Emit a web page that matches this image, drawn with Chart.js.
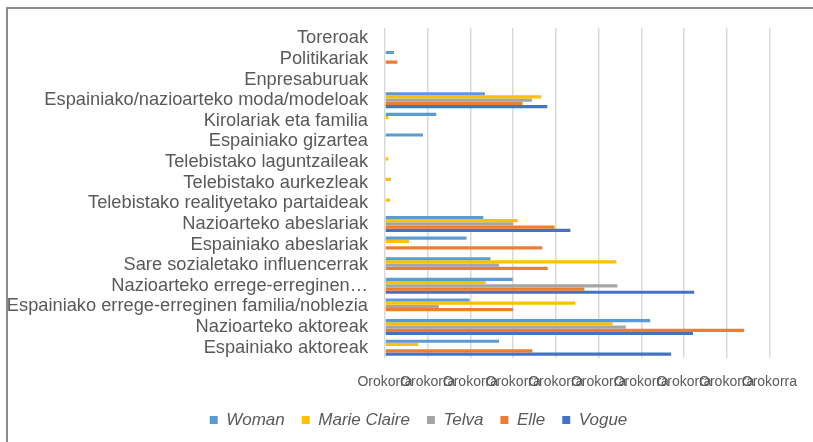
<!DOCTYPE html>
<html>
<head>
<meta charset="utf-8">
<script src="https://cdn.jsdelivr.net/npm/chart.js@4"></script>
<style>
	html, body { margin: 0; padding: 0; background: #fff; overflow: hidden; }
	#wrap { position: relative; width: 813px; height: 442px; }
	#frame { position: absolute; left: 6px; top: 7px; width: 900px; height: 500px; border: 2px solid #8c8c8c; }
	#chart { position: absolute; left: 0; top: 0; }
</style>
</head>
<body>
<div id="wrap">
	<div id="frame"></div>
	<canvas id="chart" width="813" height="442"></canvas>
</div>
<script>
// Categories, top to bottom
const categories = [
	'Toreroak',
	'Politikariak',
	'Enpresaburuak',
	'Espainiako/nazioarteko moda/modeloak',
	'Kirolariak eta familia',
	'Espainiako gizartea',
	'Telebistako laguntzaileak',
	'Telebistako aurkezleak',
	'Telebistako realityetako partaideak',
	'Nazioarteko abeslariak',
	'Espainiako abeslariak',
	'Sare sozialetako influencerrak',
	'Nazioarteko errege-erreginen…',
	'Espainiako errege-erreginen familia/noblezia',
	'Nazioarteko aktoreak',
	'Espainiako aktoreak',
];

const seriesNames = ['Woman', 'Marie Claire', 'Telva', 'Elle', 'Vogue'];
const seriesColors = ['#5B9BD5', '#FFC000', '#A5A5A5', '#ED7D31', '#4472C4'];

const woman = [0, 0.21, 0, 2.34, 1.2, 0.89, 0, 0, 0, 2.3, 1.91, 2.47, 2.99, 1.98, 6.21, 2.67];
const marieClaire = [0, 0, 0, 3.66, 0.08, 0, 0.08, 0.14, 0.12, 3.11, 0.56, 5.42, 2.36, 4.46, 5.33, 0.78];
const telva = [0, 0, 0, 3.44, 0, 0, 0, 0, 0, 3.0, 0, 2.67, 5.44, 1.26, 5.64, 0];
const elle = [0, 0.29, 0, 3.22, 0, 0, 0, 0, 0, 3.97, 3.68, 3.81, 4.67, 3.0, 8.41, 3.45];
const vogue = [0, 0, 0, 3.8, 0, 0, 0, 0, 0, 4.34, 0, 0, 7.24, 0, 7.21, 6.7];

// x axis: every tick is shown with the same label
const xTickLabel = 'Orokorra';
const xMax = 9;

const seriesValues = [woman, marieClaire, telva, elle, vogue];

const textColor = '#595959';
const fontFamily = 'Liberation Sans, Arial, sans-serif';

const datasets = seriesNames.map((name, i) => ({
	label: name,
	data: seriesValues[i],
	backgroundColor: seriesColors[i],
	borderWidth: 0,
	categoryPercentage: 0.78,
	barPercentage: 1,
}));

// The original legend sits a bit right of centre
const legendShift = {
	id: 'legendShift',
	afterLayout(chart) {
		if (chart.legend) chart.legend.left += 65;
	},
};

new Chart(document.getElementById('chart').getContext('2d'), {
	type: 'bar',
	data: { labels: categories, datasets },
	plugins: [legendShift],
	options: {
		indexAxis: 'y',
		responsive: false,
		animation: false,
		layout: { padding: { top: 28, right: 41, bottom: 3.5, left: 0 } },
		plugins: {
			tooltip: { enabled: false },
			legend: {
				position: 'bottom',
				labels: {
					color: textColor,
					boxWidth: 8,
					boxHeight: 8,
					padding: 17,
					font: { family: fontFamily, size: 17, style: 'italic' },
				},
			},
		},
		scales: {
			x: {
				min: 0,
				max: xMax,
				ticks: {
					stepSize: 1,
					padding: 16,
					color: textColor,
					maxRotation: 0,
					autoSkip: false,
					font: { family: fontFamily, size: 14 },
					callback: () => xTickLabel,
				},
				grid: { color: '#d9d9d9', lineWidth: 1.5, drawTicks: false },
				border: { display: false },
				afterFit: (scale) => { scale.height = 36.5; },
			},
			y: {
				ticks: {
					padding: 9,
					color: textColor,
					autoSkip: false,
					font: { family: fontFamily, size: 18.25 },
				},
				grid: { display: false },
				border: { display: false },
				afterFit: (scale) => { scale.width = 385; },
			},
		},
	},
});
</script>
</body>
</html>
